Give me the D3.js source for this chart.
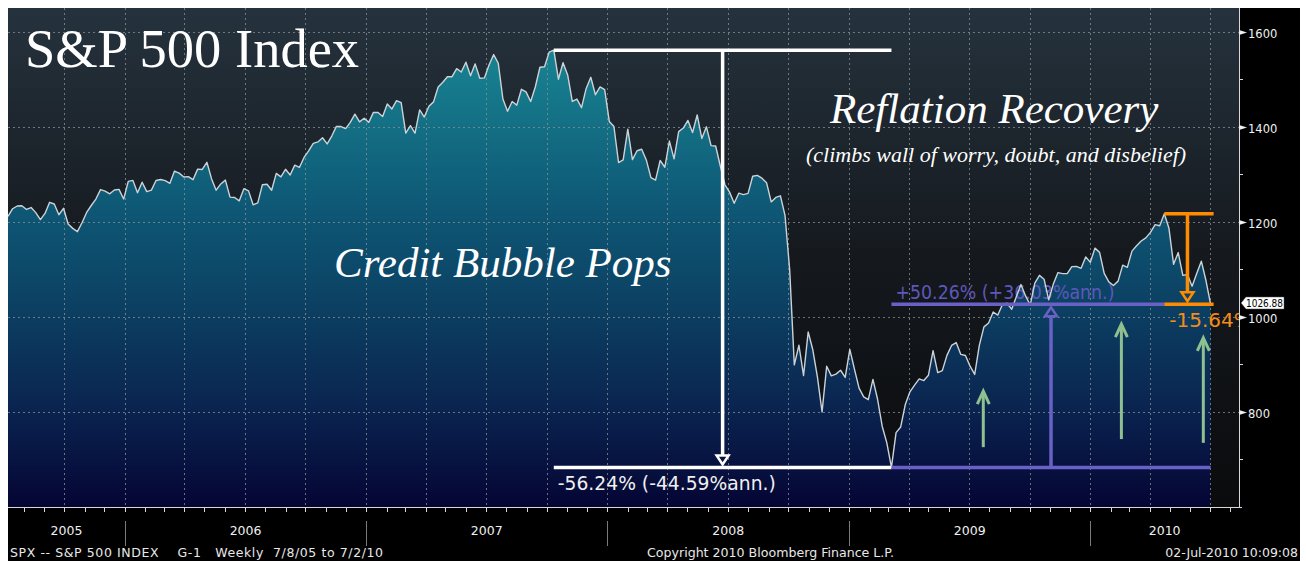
<!DOCTYPE html>
<html><head><meta charset="utf-8">
<script src="https://cdn.jsdelivr.net/npm/d3@7"></script>
<style>
html,body{margin:0;padding:0;background:#fff;}
svg{display:block;}
text{white-space:pre;}
</style></head><body>
<svg id="c" width="1306" height="561"></svg>
<script>
// ---- data: S&P 500 weekly closes, 7/8/05 to 7/2/10 ----
const startDate = "2005-07-08";
const closes2005 = [1211.86,1227.92,1233.68,1234.18,1226.42,1230.39,1219.71,1205.10,1218.02,1241.48,1237.91,1215.29,1228.81,1195.90,1186.57,1179.59,1198.41,1220.14,1234.72,1248.27,1268.25,1265.08,1259.37,1267.32,1268.66,1248.29];
const closes2006 = [1285.45,1287.61,1261.49,1283.72,1264.03,1266.99,1287.24,1289.43,1287.23,1281.42,1307.25,1302.95,1294.83,1295.50,1289.12,1311.28,1310.61,1325.76,1291.24,1267.03,1280.16,1288.22,1252.30,1251.54,1244.50,1270.20,1265.48,1236.20,1240.29,1278.55,1279.36,1266.74,1302.30,1295.09,1311.01,1298.92,1319.66,1314.78,1335.85,1349.59,1365.62,1368.60,1377.34,1364.30,1380.90,1401.20,1400.95,1396.71,1409.84,1427.09,1410.76,1418.30];
const closes2007 = [1409.71,1430.73,1430.50,1422.18,1448.39,1438.06,1455.54,1451.19,1387.17,1402.84,1386.95,1436.11,1420.86,1443.76,1452.85,1484.35,1494.07,1505.62,1505.85,1522.75,1515.73,1536.34,1507.67,1532.91,1502.56,1503.35,1530.44,1552.50,1534.10,1458.95,1433.06,1453.64,1445.94,1479.37,1473.99,1453.55,1484.25,1525.75,1526.75,1557.59,1561.80,1500.63,1535.28,1509.65,1453.70,1458.74,1440.70,1481.14,1504.66,1467.95,1484.46,1478.49];
const closes2008 = [1411.63,1401.02,1325.19,1330.61,1395.42,1331.29,1349.99,1353.11,1330.63,1293.37,1288.14,1329.51,1315.22,1370.40,1332.83,1390.33,1397.84,1413.90,1388.28,1425.35,1375.93,1400.38,1360.68,1360.03,1317.93,1278.38,1262.90,1239.49,1260.68,1257.76,1260.31,1296.32,1298.20,1292.20,1282.83,1242.31,1251.70,1255.08,1213.27,1099.23,899.22,940.55,876.77,968.75,930.99,873.29,800.03,896.24,876.07,879.73,887.88,872.80];
const closes2009 = [931.80,890.35,850.12,831.95,825.88,868.60,826.84,770.05,735.09,683.38,756.55,768.54,815.94,842.50,856.56,869.60,866.23,877.52,929.23,882.88,887.00,919.14,940.09,946.21,921.23,918.90,896.42,879.13,940.38,979.26,987.48,1010.48,1004.09,1026.13,1028.93,1016.40,1042.73,1068.30,1044.38,1025.21,1071.49,1087.68,1079.60,1036.19,1069.30,1093.48,1091.38,1091.49,1105.98,1106.41,1102.47,1126.48];
const closes2010 = [1115.10,1144.98,1136.03,1091.76,1073.87,1066.19,1075.51,1109.17,1104.49,1138.70,1149.99,1159.90,1166.59,1178.10,1194.37,1192.13,1217.28,1186.69,1110.88,1135.68,1087.69,1089.41,1064.88,1091.60,1117.51,1076.76,1026.88];
const lastValue = 1026.88;

const yTicks = [800, 1000, 1200, 1400, 1600];
const yMinorTicks = [700, 900, 1100, 1300, 1500];
const yearLabels = ["2005", "2006", "2007", "2008", "2009", "2010"];

// annotation anchors (dates / index levels)
const peak = {date: "2007-10-12", value: 1561.80};
const trough = {date: "2009-03-06", value: 683.38};
const high2010 = {date: "2010-04-23", value: 1217.28};
const lastPt = {date: "2010-07-02", value: 1026.88};
const dropText = "-56.24% (-44.59%ann.)";
const riseText = "+50.26% (+36.03%ann.)";
const pullbackText = "-15.64%";
const greenArrows = [
  {date: "2009-07-23", from: 726, to: 846},
  {date: "2010-02-17", from: 743, to: 987},
  {date: "2010-06-21", from: 735, to: 958}
];
const footerLeft = "SPX -- S&P 500 INDEX    G-1   Weekly  7/8/05 to 7/2/10";
const footerMid = "Copyright 2010 Bloomberg Finance L.P.";
const footerRight = "02-Jul-2010 10:09:08";

// ---- build ----
const parse = d3.utcParse("%Y-%m-%d");
const closes = [].concat(closes2005, closes2006, closes2007, closes2008, closes2009, closes2010);
const t0 = parse(startDate);
const data = closes.map((v, i) => ({date: d3.utcDay.offset(t0, 7 * i), value: v}));

const L = 8, R = 1239, T = 8, B = 507;
const x = d3.scaleUtc().domain([t0, parse("2010-08-14")]).range([L, R]);
const y = d3.scaleLinear().domain([600, 1650.5]).range([B, T]);

const svg = d3.select("#c");
const defs = svg.append("defs");
const bg = defs.append("linearGradient").attr("id", "bg").attr("gradientUnits", "userSpaceOnUse")
  .attr("x1", 0).attr("x2", 0).attr("y1", T).attr("y2", B);
bg.append("stop").attr("offset", 0).attr("stop-color", "#25323d");
bg.append("stop").attr("offset", 0.5).attr("stop-color", "#15191e");
bg.append("stop").attr("offset", 1).attr("stop-color", "#0a0b0d");
const ag = defs.append("linearGradient").attr("id", "ag").attr("gradientUnits", "userSpaceOnUse")
  .attr("x1", 0).attr("x2", 0).attr("y1", T).attr("y2", B);
[[0, "#1b8b9b"], [0.12, "#177f8f"], [0.4, "#0e5875"], [0.6, "#0c4063"], [0.8, "#0a2450"], [1, "#050534"]]
  .forEach(([o, c]) => ag.append("stop").attr("offset", o).attr("stop-color", c));
defs.append("clipPath").attr("id", "clip").append("rect")
  .attr("x", L).attr("y", T).attr("width", R - L).attr("height", B - T);

// black panel
svg.append("rect").attr("x", L).attr("y", T).attr("width", 1300 - L).attr("height", 561 - T).attr("fill", "#000");
svg.append("rect").attr("x", L).attr("y", T).attr("width", R - L).attr("height", B - T).attr("fill", "url(#bg)");

const plot = svg.append("g").attr("clip-path", "url(#clip)");

plot.append("path").datum(data)
  .attr("d", d3.area().x(d => x(d.date)).y0(B).y1(d => y(d.value)))
  .attr("fill", "url(#ag)");

// grid
const quarters = d3.utcMonth.every(3).range(x.domain()[0], x.domain()[1]);
plot.append("g").selectAll("line").data(quarters).join("line")
  .attr("x1", d => Math.round(x(d)) + 0.5).attr("x2", d => Math.round(x(d)) + 0.5)
  .attr("y1", T).attr("y2", B)
  .attr("stroke", "#8a9298").attr("stroke-width", 1).attr("stroke-dasharray", "2,3").attr("opacity", 0.75);
plot.append("g").selectAll("line").data(yTicks).join("line")
  .attr("x1", L).attr("x2", R)
  .attr("y1", d => Math.round(y(d)) + 0.5).attr("y2", d => Math.round(y(d)) + 0.5)
  .attr("stroke", "#8a9298").attr("stroke-width", 1).attr("stroke-dasharray", "2,3").attr("opacity", 0.75);

// titles
const serif = "'Liberation Serif','Times New Roman',serif";
plot.append("text").attr("x", 25).attr("y", 67).text("S&P 500 Index")
  .attr("font-family", serif).attr("font-size", 54.5).attr("fill", "#fff");
plot.append("text").attr("x", 830).attr("y", 123).text("Reflation Recovery")
  .attr("font-family", serif).attr("font-style", "italic").attr("font-size", 43).attr("fill", "#fff");
plot.append("text").attr("x", 806).attr("y", 162).text("(climbs wall of worry, doubt, and disbelief)")
  .attr("font-family", serif).attr("font-style", "italic").attr("font-size", 22).attr("fill", "#fff");
plot.append("text").attr("x", 334).attr("y", 277).text("Credit Bubble Pops")
  .attr("font-family", serif).attr("font-style", "italic").attr("font-size", 43).attr("fill", "#fff");

// annotation texts
const sans = "'DejaVu Sans',Verdana,sans-serif";
const white = "#ffffff", purple = "#6a61c6", orange = "#ff8c00", green = "#8fc08f";
const xp = x(parse(peak.date)), xt = x(parse(trough.date)), xh = x(parse(high2010.date)), xl = x(parse(lastPt.date));
const yp = y(peak.value), yt = y(trough.value), yh = y(high2010.value), yl = y(lastPt.value);

plot.append("text").attr("x", xp + 4).attr("y", yt + 23).text(dropText)
  .attr("font-family", sans).attr("font-size", 19).attr("fill", "#f0f0f0")
  .attr("textLength", 218).attr("lengthAdjust", "spacingAndGlyphs");
plot.append("text").attr("x", xt + 4).attr("y", yl - 5).text(riseText)
  .attr("font-family", sans).attr("font-size", 19).attr("fill", "#5d58bb")
  .attr("textLength", 219).attr("lengthAdjust", "spacingAndGlyphs");
plot.append("text").attr("x", xh + 5).attr("y", yl + 23).text(pullbackText)
  .attr("font-family", sans).attr("font-size", 20).attr("fill", "#f28c1c");

// price line
plot.append("path").datum(data)
  .attr("d", d3.line().x(d => x(d.date)).y(d => y(d.value)))
  .attr("fill", "none").attr("stroke", "#ccd3d7").attr("stroke-width", 1.4).attr("stroke-linejoin", "round");

// annotation lines
const ann = plot.append("g");
function hline(x1, x2, yy, c) {
  ann.append("line").attr("x1", x1).attr("x2", x2).attr("y1", yy).attr("y2", yy).attr("stroke", c).attr("stroke-width", 3.5);
}
function measure(xm, y1, y2, c) { // vertical line from y1 to y2 with open triangle head at y2
  const dir = y2 > y1 ? 1 : -1;
  ann.append("line").attr("x1", xm).attr("x2", xm).attr("y1", y1).attr("y2", y2 - dir * 12).attr("stroke", c).attr("stroke-width", 3.5);
  const tip = y2 - dir * 3, base = y2 - dir * 12;
  ann.append("path").attr("d", `M${xm - 6},${base}L${xm + 6},${base}L${xm},${tip}Z`)
    .attr("fill", "none").attr("stroke", c).attr("stroke-width", 2.5).attr("stroke-linejoin", "miter");
}
// credit bubble drop
hline(xp, xt, yp, white);
hline(xp, xt, yt, white);
measure((xp + xt) / 2, yp, yt, white);
// recovery
hline(xt, xl, yt, purple);
hline(xt, xh, yl, purple);
measure((xt + xl) / 2, yt, yl, purple);
// 2010 pullback
hline(xh, xl + 3, yh, orange);
hline(xh, xl + 3, yl, orange);
measure((xh + xl) / 2, yh, yl, orange);

// green arrows
greenArrows.forEach(a => {
  const gx = x(parse(a.date)), gy1 = y(a.from), gy2 = y(a.to);
  ann.append("line").attr("x1", gx).attr("x2", gx).attr("y1", gy1).attr("y2", gy2 + 2)
    .attr("stroke", green).attr("stroke-width", 3);
  ann.append("path").attr("d", `M${gx - 6},${gy2 + 14}L${gx},${gy2 + 1}L${gx + 6},${gy2 + 14}`)
    .attr("fill", "none").attr("stroke", green).attr("stroke-width", 3).attr("stroke-linejoin", "miter");
});

// axes
const axisCol = "#d8d8d8";
svg.append("line").attr("x1", R + 0.5).attr("x2", R + 0.5).attr("y1", T).attr("y2", B + 1).attr("stroke", axisCol);
svg.append("line").attr("x1", L).attr("x2", R + 3).attr("y1", B + 0.5).attr("y2", B + 0.5).attr("stroke", axisCol);
svg.append("g").selectAll("line").data(yMinorTicks).join("line")
  .attr("x1", R).attr("x2", R + 4).attr("y1", d => Math.round(y(d)) + 0.5).attr("y2", d => Math.round(y(d)) + 0.5)
  .attr("stroke", axisCol);
const ytg = svg.append("g").selectAll("g").data(yTicks).join("g")
  .attr("transform", d => `translate(${R},${Math.round(y(d)) + 0.5})`);
ytg.append("path").attr("d", "M0,-2.5L8,0L0,2.5Z").attr("fill", "#f0f0f0");
ytg.append("text").attr("x", 9).attr("y", 5).text(d => d)
  .attr("font-family", sans).attr("font-size", 11.5).attr("fill", "#f0f0f0");

// last value label
const ly = Math.round(y(lastValue)) - 1;
svg.append("path").attr("d", `M${R + 2},${ly}L${R + 7},${ly - 6}L${R + 45},${ly - 6}L${R + 45},${ly + 6}L${R + 7},${ly + 6}Z`)
  .attr("fill", "#fff").attr("stroke", "#555").attr("stroke-width", 0.5);
svg.append("text").attr("x", R + 7).attr("y", ly + 3.5).text(lastValue.toFixed(2))
  .attr("font-family", sans).attr("font-size", 10.5).attr("fill", "#000")
  .attr("textLength", 37).attr("lengthAdjust", "spacingAndGlyphs");

// x ticks
const months = d3.utcMonth.range(x.domain()[0], x.domain()[1]);
svg.append("g").selectAll("line").data(months).join("line")
  .attr("x1", d => Math.round(x(d)) + 0.5).attr("x2", d => Math.round(x(d)) + 0.5)
  .attr("y1", B).attr("y2", B + 5).attr("stroke", axisCol);
const yearStarts = d3.utcYear.range(x.domain()[0], x.domain()[1]);
svg.append("g").selectAll("line").data(yearStarts).join("line")
  .attr("x1", d => Math.round(x(d)) + 0.5).attr("x2", d => Math.round(x(d)) + 0.5)
  .attr("y1", 521).attr("y2", 546).attr("stroke", "#7a7a7a");
const bounds = [x.domain()[0]].concat(yearStarts, [x.domain()[1]]);
svg.append("g").selectAll("text").data(yearLabels).join("text")
  .attr("x", (d, i) => (x(bounds[i]) + x(bounds[i + 1])) / 2)
  .attr("y", 535).attr("text-anchor", "middle").text(d => d)
  .attr("font-family", sans).attr("font-size", 12.5).attr("fill", "#f0f0f0");

// footer
svg.append("text").attr("x", 10).attr("y", 557).text(footerLeft)
  .attr("font-family", sans).attr("font-size", 12.5).attr("fill", "#e8e8e8")
  .attr("textLength", 373).attr("lengthAdjust", "spacing");
svg.append("text").attr("x", 647).attr("y", 557).text(footerMid)
  .attr("font-family", sans).attr("font-size", 12.5).attr("fill", "#e8e8e8")
  .attr("textLength", 247).attr("lengthAdjust", "spacingAndGlyphs");
svg.append("text").attr("x", 1298).attr("y", 557).attr("text-anchor", "end").text(footerRight)
  .attr("font-family", sans).attr("font-size", 12.5).attr("fill", "#e8e8e8");
</script>
</body></html>
